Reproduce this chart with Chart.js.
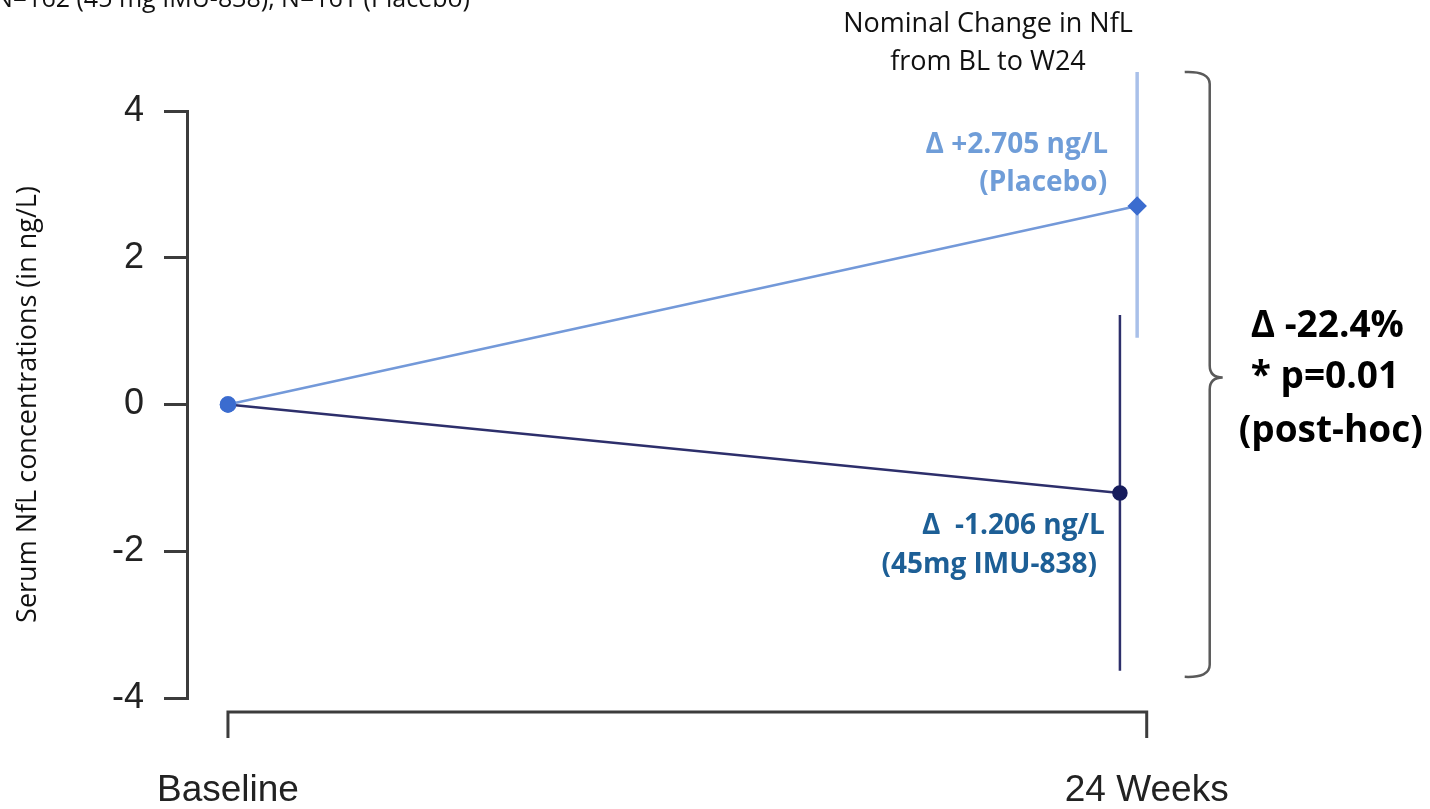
<!DOCTYPE html>
<html>
<head>
<meta charset="utf-8">
<title>Serum NfL change</title>
<script src="https://cdn.jsdelivr.net/npm/chart.js@4.4.1/dist/chart.umd.min.js"></script>
<style>
  html, body { margin: 0; padding: 0; background: #fff; }
  #wrap { width: 1430px; height: 809px; position: relative; }
</style>
</head>
<body>
<div id="wrap"><canvas id="nflChart"></canvas></div>
<script>
// --- data ---
const xTickWeeks = [0, 24];
const xTickLabels = ["Baseline", "24 Weeks"];
const yTicks = [-4, -2, 0, 2, 4];

// placebo (drawn slightly dodged to the right of IMU-838 at week 24)
const placeboWeeks = [0, 23.75];
const placeboValues = [0, 2.705];
const placeboLow = [null, 0.91];
const placeboHigh = [null, 4.53];

const imuWeeks = [0, 23.3];
const imuValues = [0, -1.206];
const imuLow = [null, -3.63];
const imuHigh = [null, 1.22];

const placeboLabel = ["Δ +2.705 ng/L", "(Placebo)"];
const imuLabel = ["Δ  -1.206 ng/L", "(45mg IMU-838)"];
const diffLabel = ["Δ -22.4%", "* p=0.01", "(post-hoc)"];
const headerLabel = ["Nominal Change in NfL", "from BL to W24"];
const nLabel = "N=162 (45 mg IMU-838), N=161 (Placebo)";

const placeboColor = "#3b6ccf";
const placeboLine = "#7399d9";
const placeboErr = "#a9c0e9";
const imuColor = "#161c5c";
const imuLine = "#2d2f6b";
const axisColor = "#3c3c3c";

function toPoints(xs, ys) {
  return xs.map((x, i) => ({ x: x, y: ys[i] }));
}

// error bars, drawn under the markers
const errorBars = {
  id: "errorBars",
  beforeDatasetsDraw(chart) {
    const ctx = chart.ctx;
    const xs = chart.scales.x, ys = chart.scales.y;
    const sets = [
      { w: placeboWeeks, lo: placeboLow, hi: placeboHigh, color: placeboErr, width: 3.5 },
      { w: imuWeeks, lo: imuLow, hi: imuHigh, color: imuLine, width: 2.5 }
    ];
    ctx.save();
    sets.forEach(s => {
      s.w.forEach((wk, i) => {
        if (s.lo[i] == null) return;
        const px = xs.getPixelForValue(wk);
        ctx.strokeStyle = s.color;
        ctx.lineWidth = s.width;
        ctx.beginPath();
        ctx.moveTo(px, ys.getPixelForValue(s.hi[i]));
        ctx.lineTo(px, ys.getPixelForValue(s.lo[i]));
        ctx.stroke();
      });
    });
    ctx.restore();
  }
};

// bracket style x axis, brace and all the text notes
const notes = {
  id: "notes",
  afterDraw(chart) {
    const ctx = chart.ctx;
    const xs = chart.scales.x, ys = chart.scales.y;
    const area = chart.chartArea;
    ctx.save();

    // x axis bracket
    const axY = area.bottom + 14;
    const x0 = xs.getPixelForValue(xTickWeeks[0]);
    const x1 = xs.getPixelForValue(xTickWeeks[xTickWeeks.length - 1]);
    ctx.strokeStyle = axisColor;
    ctx.lineWidth = 3;
    ctx.beginPath();
    ctx.moveTo(x0, axY + 26);
    ctx.lineTo(x0, axY);
    ctx.lineTo(x1, axY);
    ctx.lineTo(x1, axY + 26);
    ctx.stroke();
    ctx.fillStyle = "#222";
    ctx.font = "37px 'Liberation Sans', Arial, sans-serif";
    ctx.textAlign = "center";
    ctx.textBaseline = "middle";
    xTickWeeks.forEach((wk, i) => {
      ctx.fillText(xTickLabels[i], xs.getPixelForValue(wk), axY + 79);
    });

    // curly brace spanning both error bars
    const bTop = ys.getPixelForValue(placeboHigh[1]);
    const bBot = ys.getPixelForValue(imuLow[1]) + 6;
    const bMid = (bTop + bBot) / 2 + 3;
    const bx = x1 + 63;
    ctx.strokeStyle = "#5a5a5a";
    ctx.lineWidth = 2.5;
    ctx.beginPath();
    ctx.moveTo(bx - 25, bTop);
    ctx.quadraticCurveTo(bx, bTop - 1, bx, bTop + 12);
    ctx.lineTo(bx, bMid - 12);
    ctx.quadraticCurveTo(bx, bMid, bx + 13, bMid);
    ctx.quadraticCurveTo(bx, bMid, bx, bMid + 12);
    ctx.lineTo(bx, bBot - 12);
    ctx.quadraticCurveTo(bx, bBot + 1, bx - 25, bBot);
    ctx.stroke();

    // difference text
    ctx.fillStyle = "#000";
    ctx.font = "bold 37px 'Open Sans', sans-serif";
    ctx.textAlign = "left";
    ctx.textBaseline = "middle";
    ctx.fillText(diffLabel[0], bx + 41, bMid - 51);
    ctx.fillText(diffLabel[1], bx + 41, bMid);
    ctx.fillText(diffLabel[2], bx + 29, bMid + 54);

    // group labels
    ctx.font = "bold 28px 'Open Sans', sans-serif";
    ctx.textAlign = "right";
    const pX = xs.getPixelForValue(placeboWeeks[1]);
    const pY = ys.getPixelForValue(placeboValues[1]);
    ctx.fillStyle = "#6f9dd8";
    ctx.fillText(placeboLabel[0], pX - 29, pY - 61);
    ctx.fillText(placeboLabel[1], pX - 30, pY - 23);
    const iX = xs.getPixelForValue(imuWeeks[1]);
    const iY = ys.getPixelForValue(imuValues[1]);
    ctx.fillStyle = "#1d5f96";
    ctx.fillText(imuLabel[0], iX - 15, iY + 33);
    ctx.fillText(imuLabel[1], iX - 23, iY + 72);

    // header notes
    ctx.fillStyle = "#111";
    ctx.font = "27px 'Open Sans', sans-serif";
    ctx.textAlign = "center";
    ctx.fillText(headerLabel[0], 988, 24);
    ctx.fillText(headerLabel[1], 988, 62);
    ctx.font = "25px 'Open Sans', sans-serif";
    ctx.textAlign = "left";
    ctx.textBaseline = "alphabetic";
    ctx.fillText(nLabel, -6, 7);

    ctx.restore();
  }
};

new Chart(document.getElementById("nflChart"), {
  type: "line",
  data: {
    datasets: [
      {
        label: "Placebo",
        data: toPoints(placeboWeeks, placeboValues),
        borderColor: placeboLine,
        borderWidth: 2.5,
        backgroundColor: placeboColor,
        pointBackgroundColor: placeboColor,
        pointBorderColor: placeboColor,
        pointStyle: ["circle", "rectRot"],
        pointRadius: [7, 8],
        tension: 0
      },
      {
        label: "45mg IMU-838",
        data: toPoints(imuWeeks, imuValues),
        borderColor: imuLine,
        borderWidth: 2.5,
        backgroundColor: imuColor,
        pointBackgroundColor: [placeboColor, imuColor],
        pointBorderColor: [placeboColor, imuColor],
        pointStyle: "circle",
        pointRadius: [7, 6.5],
        tension: 0
      }
    ]
  },
  options: {
    responsive: true,
    maintainAspectRatio: false,
    animation: false,
    layout: { padding: { left: 0, right: 245, top: 111, bottom: 111 } },
    plugins: {
      legend: { display: false },
      tooltip: { enabled: false }
    },
    scales: {
      x: {
        type: "linear",
        min: -1.07,
        max: 25,
        display: false
      },
      y: {
        min: -4,
        max: 4,
        afterFit(scale) { scale.width = 187; },
        afterBuildTicks(scale) { scale.ticks = yTicks.map(v => ({ value: v })); },
        border: { display: true, color: axisColor, width: 3 },
        grid: { drawOnChartArea: false, drawTicks: true, tickLength: 23, color: axisColor, lineWidth: 3 },
        ticks: {
          padding: 20,
          color: "#222",
          font: { family: "'Liberation Sans', Arial, sans-serif", size: 36 },
          callback: v => String(v)
        },
        title: {
          display: true,
          text: "Serum NfL concentrations (in ng/L)",
          color: "#111",
          font: { family: "'Open Sans', sans-serif", size: 27 },
          padding: { top: 12, bottom: 0 }
        }
      }
    }
  },
  plugins: [errorBars, notes]
});
</script>
</body>
</html>
